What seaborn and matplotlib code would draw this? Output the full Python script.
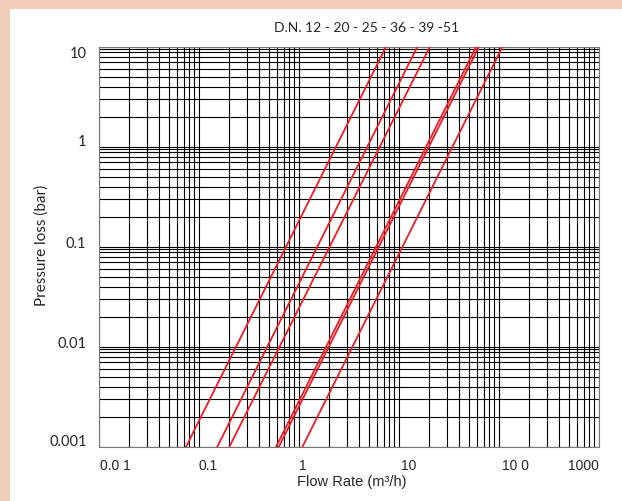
import pandas as pd
import seaborn as sns
import matplotlib.pyplot as plt
import matplotlib.transforms as mtransforms
from matplotlib.patches import Rectangle
from matplotlib.ticker import LogLocator, FixedLocator, NullFormatter

# pipe sizes and the flow rate read at the bottom (0.001 bar) and top (10 bar) of the chart
sizes = ["12", "20", "25", "36", "39", "51"]
q_low = [0.074, 0.152, 0.201, 0.589, 0.627, 1.08]
q_high = [7.4, 15.2, 20.3, 58.9, 62.7, 108.0]
p_low = 0.001
p_high = 10

x_ticks = [0.01, 0.1, 1, 10, 100, 1000]
x_labels = ["0.0 1", "0.1", "1", "10", "10 0", "1000"]
y_ticks = [0.001, 0.01, 0.1, 1, 10]
y_labels = ["0.001", "0.01", "0.1", "1", "10"]

rows = []
for s, lo, hi in zip(sizes, q_low, q_high):
    rows.append({"dn": s, "flow": lo, "loss": p_low})
    rows.append({"dn": s, "flow": hi, "loss": p_high})
df = pd.DataFrame(rows)

sns.set_style("white")

fig = plt.figure(figsize=(6.22, 5.01), dpi=100, facecolor="#F1CDB9")
fig.patches.append(Rectangle((10 / 622, 0), 1, 1 - 9 / 501, transform=fig.transFigure,
                             facecolor="white", edgecolor="none", zorder=-5))
ax = fig.add_axes([99 / 622, 54 / 501, 500 / 622, 400 / 501])
ax.set_zorder(2)

sns.lineplot(data=df, x="flow", y="loss", hue="dn", palette=["#EE1C25"] * 6,
             linewidth=1.3, legend=False, ax=ax, zorder=3)

ax.set_xscale("log")
ax.set_yscale("log")
ax.set_xlim(0.01, 1000)
ax.set_ylim(0.001, 10)

# grid
ax.xaxis.set_major_locator(FixedLocator(x_ticks))
ax.xaxis.set_minor_locator(LogLocator(base=10, subs=[2, 3, 4, 5, 6, 7, 8, 9]))
ax.yaxis.set_major_locator(FixedLocator(y_ticks))
ax.yaxis.set_minor_locator(LogLocator(base=10, subs=[2, 3, 4, 5, 6, 7, 8, 9, 9.6]))
ax.xaxis.set_minor_formatter(NullFormatter())
ax.yaxis.set_minor_formatter(NullFormatter())
ax.grid(which="both", color="black", linewidth=0.8)
ax.set_axisbelow(True)
ax.tick_params(which="both", length=0)
ax.tick_params(axis="x", pad=9)
ax.tick_params(axis="y", pad=9)

ax.set_xticklabels(x_labels, family="Liberation Sans", fontsize=10)
ax.set_yticklabels(y_labels, family="Lato", fontsize=10.5)
xt = ax.get_xticklabels()
xt[0].set_ha("left")
xt[-1].set_ha("right")

# the original labels sit a little off their grid lines
x_shift = [1, 9, 4, 10, 17, 0]
y_shift = [7, 4, 5, 6, -5]
for lab, dx in zip(xt, x_shift):
    lab.set_transform(lab.get_transform() + mtransforms.ScaledTranslation(dx / 100, 0, fig.dpi_scale_trans))
for lab, dy in zip(ax.get_yticklabels(), y_shift):
    lab.set_transform(lab.get_transform() + mtransforms.ScaledTranslation(0, dy / 100, fig.dpi_scale_trans))

for sp in ax.spines.values():
    sp.set_color("#777777")
    sp.set_linewidth(0.8)

ax.set_xlabel("")
ax.set_ylabel("")
fig.text(352 / 622, 1 - 482 / 501, "Flow Rate (m³/h)", ha="center", va="center",
         family="Liberation Sans", fontsize=10.5)
fig.text(42 / 622, 1 - 245 / 501, "Pressure loss (bar)", ha="center", va="center",
         rotation=90, family="Lato", fontsize=11)
fig.text(367 / 622, 1 - 28 / 501, "D.N. 12 - 20 - 25 - 36 - 39 -51", ha="center",
         va="center", family="Lato", fontsize=10)

fig.savefig("out.png", dpi=100, facecolor=fig.get_facecolor())
